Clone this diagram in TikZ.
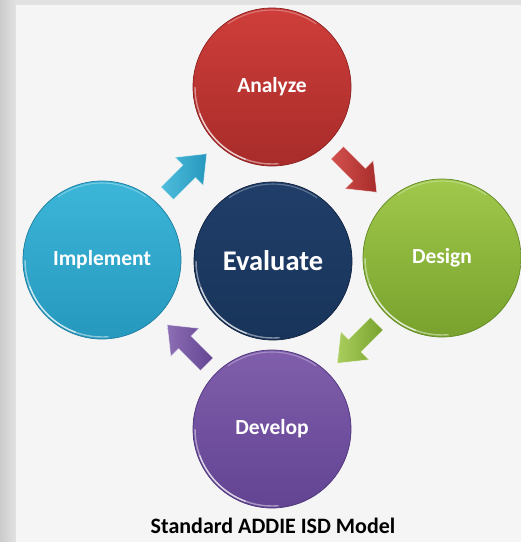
\documentclass[tikz,border=0pt]{standalone}
\usepackage{fontspec}
\setmainfont{Carlito}
\usetikzlibrary{calc,shadings}
\definecolor{redT}{RGB}{206,62,58}\definecolor{redB}{RGB}{168,44,42}\definecolor{redD}{RGB}{140,32,32}
\definecolor{navT}{RGB}{32,62,105}\definecolor{navB}{RGB}{24,52,90}\definecolor{navD}{RGB}{14,32,62}
\definecolor{grnT}{RGB}{160,200,75}\definecolor{grnB}{RGB}{120,162,45}\definecolor{grnD}{RGB}{98,138,38}
\definecolor{cyaT}{RGB}{60,182,216}\definecolor{cyaB}{RGB}{38,152,190}\definecolor{cyaD}{RGB}{28,125,160}
\definecolor{purT}{RGB}{128,94,172}\definecolor{purB}{RGB}{98,68,146}\definecolor{purD}{RGB}{78,52,122}
\definecolor{panel}{RGB}{245,245,245}
\definecolor{outer}{RGB}{226,226,226}
\tikzset{
  ball/.style={circle, minimum size=158pt, inner sep=0pt, line width=0.7pt,
    text=white, font=\bfseries\fontsize{21.5}{21.5}\selectfont},
  bigball/.style={ball, font=\bfseries\fontsize{28.5}{28.5}\selectfont},
  rimlow/.style={white, opacity=0.45, line width=1.4pt},
  rimlowcore/.style={white, opacity=0.6, line width=1.4pt},
  rimtop/.style={white, opacity=0.3, line width=1.1pt},
  pics/blockarrow/.style={code={
    \path[#1, draw=white, draw opacity=0.55, line width=0.8pt]
      (-28pt,-9pt) -- (3pt,-9pt) -- (3pt,-20pt) -- (28pt,0pt) -- (3pt,20pt) -- (3pt,9pt) -- (-28pt,9pt) -- cycle;}},
  titletext/.style={font=\bfseries\fontsize{22}{22}\selectfont, text=black, inner sep=0pt}
}
\begin{document}
\begin{tikzpicture}[x=1pt,y=-1pt]
\useasboundingbox (0,0) rectangle (521,542);
\fill[left color=outer!90!black, right color=outer] (0,0) rectangle (16,542);
\fill[outer] (16,0) rectangle (521,542);
\fill[panel] (16,5) rectangle (521,542);

\node[ball, top color=redT, bottom color=redB, draw=redD] (an) at (272,87) {Analyze};
\node[bigball, top color=navT, bottom color=navB, draw=navD] (ev) at (273,261) {Evaluate};
\node[ball, top color=grnT, bottom color=grnB, draw=grnD] (de) at (442,258) {Design};
\node[ball, top color=cyaT, bottom color=cyaB, draw=cyaD] (im) at (102,260) {Implement};
\node[ball, top color=purT, bottom color=purB, draw=purD] (dv) at (272,429) {Develop};

\foreach \n in {an,ev,de,im,dv}{
  \begin{scope}[shift={(\n.center)}, x=1pt, y=1pt]
    \draw[rimlow] (180:77) arc[start angle=180, end angle=275, radius=77];
    \draw[rimlowcore] (200:77) arc[start angle=200, end angle=250, radius=77];
    \draw[rimtop] (55:77) arc[start angle=55, end angle=125, radius=77];
  \end{scope}
}

\pic[rotate=-45] at ($(an)!0.5!(de)$) {blockarrow={left color=redT!90!white, right color=redB}};
\pic[rotate=-135] at ($(de)!0.5!(dv)$) {blockarrow={left color=grnT!90!white, right color=grnB}};
\pic[rotate=135] at ($(dv)!0.5!(im)$) {blockarrow={left color=purT!90!white, right color=purB}};
\pic[rotate=45] at ($(im)!0.5!(an)$) {blockarrow={left color=cyaT!90!white, right color=cyaB}};

\node[titletext, anchor=base] (title) at (273,533) {Standard ADDIE ISD Model};
\end{tikzpicture}
\end{document}
